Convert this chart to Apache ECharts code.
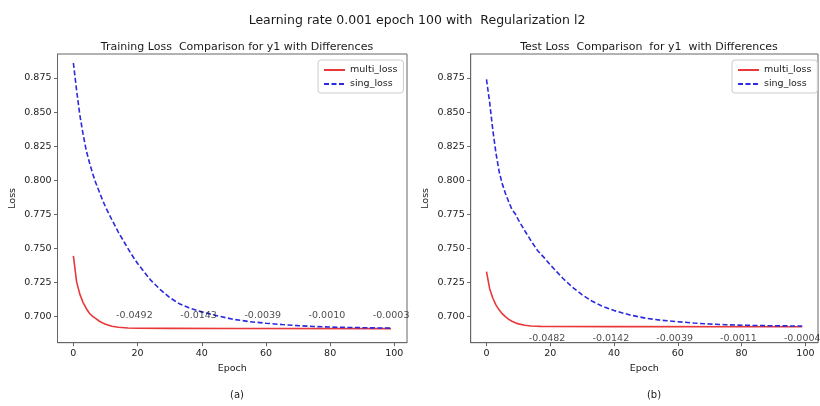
<!DOCTYPE html>
<html>
<head>
<meta charset="utf-8">
<script src="https://cdn.jsdelivr.net/npm/echarts@6/dist/echarts.min.js"></script>
<style>
  html, body { margin: 0; padding: 0; background: #fff; }
  #chart { width: 820px; height: 406px; }
</style>
</head>
<body>
<div id="chart"></div>
<script>
// values
const trainMultiEpochs = [0, 1, 2, 3, 4, 5, 6, 7, 8, 9, 10, 12, 14, 17, 20, 30, 50, 99];
const trainMultiLoss = [0.7445, 0.7255, 0.7165, 0.7105, 0.706, 0.7025, 0.7002, 0.6985, 0.6968, 0.6955, 0.6945, 0.693, 0.6922, 0.6917, 0.6915, 0.6914, 0.6913, 0.6912];

const trainSingEpochs = [0, 1, 2, 3, 4, 5, 6, 7, 8, 9, 10, 12, 14, 16, 18, 20, 22, 24, 27, 30, 33, 36, 40, 45, 50, 55, 60, 65, 70, 75, 80, 85, 90, 95, 99];
const trainSingLoss = [0.886, 0.866, 0.848, 0.834, 0.822, 0.813, 0.805, 0.798, 0.792, 0.786, 0.7805, 0.771, 0.762, 0.754, 0.746, 0.739, 0.733, 0.727, 0.72, 0.714, 0.7095, 0.7065, 0.7035, 0.7005, 0.698, 0.6963, 0.6952, 0.6942, 0.6934, 0.6928, 0.6924, 0.6921, 0.6919, 0.6917, 0.6916];

const testMultiEpochs = [0, 1, 2, 3, 4, 5, 6, 7, 8, 9, 10, 12, 14, 17, 20, 40, 99];
const testMultiLoss = [0.733, 0.7205, 0.7135, 0.7085, 0.7048, 0.702, 0.6998, 0.698, 0.6966, 0.6955, 0.6947, 0.6937, 0.6932, 0.6929, 0.6928, 0.6927, 0.6926];

const testSingEpochs = [0, 1, 2, 3, 4, 5, 6, 7, 8, 9, 10, 12, 14, 16, 18, 20, 22, 24, 27, 30, 33, 36, 40, 45, 50, 55, 60, 65, 70, 75, 80, 85, 90, 95, 99];
const testSingLoss = [0.874, 0.857, 0.8365, 0.8195, 0.806, 0.797, 0.79, 0.784, 0.7785, 0.7755, 0.771, 0.763, 0.7555, 0.7485, 0.7435, 0.738, 0.733, 0.728, 0.7215, 0.716, 0.7115, 0.708, 0.7045, 0.7012, 0.6988, 0.6973, 0.6963, 0.6953, 0.6946, 0.6941, 0.6937, 0.6935, 0.6933, 0.6932, 0.6931];

const diffEpochs = [19, 39, 59, 79, 99];
const trainDiffLabels = ['-0.0492', '-0.0143', '-0.0039', '-0.0010', '-0.0003'];
const testDiffLabels = ['-0.0482', '-0.0142', '-0.0039', '-0.0011', '-0.0004'];

const xTicks = [0, 20, 40, 60, 80, 100];
const yTicks = [0.700, 0.725, 0.750, 0.775, 0.800, 0.825, 0.850, 0.875];

const FONT = 'DejaVu Sans';
const TEXT = '#1a1a1a';
const FRAME = '#666';
const RED = '#e8383a';
const BLUE = '#2a2ae0';

const zip = (xs, ys) => xs.map((x, i) => [x, ys[i]]);

function xAxisFor(gridIndex) {
    return {
        type: 'value',
        gridIndex,
        min: -4.95,
        max: 103.95,
        name: 'Epoch',
        nameLocation: 'middle',
        nameGap: 20,
        nameTextStyle: { color: TEXT, fontSize: 9.5, fontFamily: FONT },
        axisLine: { show: true, onZero: false, lineStyle: { color: FRAME, width: 1 } },
        axisTick: { show: true, customValues: xTicks, length: 3.5, lineStyle: { color: FRAME } },
        axisLabel: { customValues: xTicks, color: TEXT, fontSize: 9.5, fontFamily: FONT, margin: 6 },
        splitLine: { show: false },
    };
}

function yAxisFor(gridIndex) {
    return {
        type: 'value',
        gridIndex,
        min: 0.6809,
        max: 0.8926,
        name: 'Loss',
        nameLocation: 'middle',
        nameGap: 40,
        nameTextStyle: { color: TEXT, fontSize: 9.5, fontFamily: FONT },
        axisLine: { show: true, onZero: false, lineStyle: { color: FRAME, width: 1 } },
        axisTick: { show: true, customValues: yTicks, length: 3.5, lineStyle: { color: FRAME } },
        axisLabel: {
            customValues: yTicks,
            color: TEXT,
            fontSize: 9.5,
            fontFamily: FONT,
            margin: 6,
            formatter: (v) => v.toFixed(3),
        },
        splitLine: { show: false },
    };
}

function lossSeries(name, idx, data, color, dashed) {
    return {
        name,
        type: 'line',
        xAxisIndex: idx,
        yAxisIndex: idx,
        data,
        symbol: 'none',
        lineStyle: { color, width: 1.6, type: dashed ? [5, 2.5] : 'solid' },
        itemStyle: { color },
        animation: false,
    };
}

function diffSeries(idx, labels, yPos) {
    return {
        type: 'scatter',
        xAxisIndex: idx,
        yAxisIndex: idx,
        symbolSize: 1,
        itemStyle: { color: 'rgba(0,0,0,0)' },
        data: diffEpochs.map((e, i) => ({ value: [e, yPos], label: { formatter: labels[i] } })),
        label: {
            show: true,
            position: 'inside',
            color: TEXT,
            fontSize: 9.5,
            fontFamily: FONT,
        },
        silent: true,
        z: 5,
    };
}

function legendFor(left) {
    return {
        data: ['multi_loss', 'sing_loss'],
        orient: 'vertical',
        left,
        top: 60,
        padding: [5, 6, 4, 5],
        itemWidth: 21,
        itemHeight: 10,
        itemGap: 4,
        itemStyle: { opacity: 0 },
        borderColor: '#ccc',
        borderWidth: 1,
        borderRadius: 3,
        backgroundColor: '#fff',
        textStyle: { color: TEXT, fontSize: 9.5, fontFamily: FONT },
    };
}

const chart = echarts.init(document.getElementById('chart'), null, { renderer: 'canvas' });

chart.setOption({
    animation: false,
    backgroundColor: '#fff',
    title: [
        {
            text: 'Learning rate 0.001 epoch 100 with  Regularization l2',
            left: 412,
            textAlign: 'center',
            top: 9,
            textStyle: { color: TEXT, fontSize: 12.5, fontWeight: 'normal', fontFamily: FONT },
        },
        {
            text: 'Training Loss  Comparison for y1 with Differences',
            left: 232,
            textAlign: 'center',
            top: 37,
            textStyle: { color: TEXT, fontSize: 11, fontWeight: 'normal', fontFamily: FONT },
        },
        {
            text: 'Test Loss  Comparison  for y1  with Differences',
            left: 644,
            textAlign: 'center',
            top: 37,
            textStyle: { color: TEXT, fontSize: 11, fontWeight: 'normal', fontFamily: FONT },
        },
        {
            text: '(a)',
            left: 232,
            textAlign: 'center',
            top: 385,
            textStyle: { color: TEXT, fontSize: 10, fontWeight: 'normal', fontFamily: FONT },
        },
        {
            text: '(b)',
            left: 649,
            textAlign: 'center',
            top: 385,
            textStyle: { color: TEXT, fontSize: 10, fontWeight: 'normal', fontFamily: FONT },
        },
    ],
    legend: [legendFor(318), legendFor(732)],
    grid: [
        { left: 57.5, top: 54, width: 349.5, height: 288.7, show: true, borderColor: FRAME, borderWidth: 1, containLabel: false },
        { left: 470.7, top: 54, width: 347.3, height: 288.7, show: true, borderColor: FRAME, borderWidth: 1, containLabel: false },
    ],
    xAxis: [xAxisFor(0), xAxisFor(1)],
    yAxis: [yAxisFor(0), yAxisFor(1)],
    series: [
        lossSeries('multi_loss', 0, zip(trainMultiEpochs, trainMultiLoss), RED, false),
        lossSeries('sing_loss', 0, zip(trainSingEpochs, trainSingLoss), BLUE, true),
        diffSeries(0, trainDiffLabels, 0.7005),
        lossSeries('multi_loss', 1, zip(testMultiEpochs, testMultiLoss), RED, false),
        lossSeries('sing_loss', 1, zip(testSingEpochs, testSingLoss), BLUE, true),
        diffSeries(1, testDiffLabels, 0.6839),
    ],
});
</script>
</body>
</html>
